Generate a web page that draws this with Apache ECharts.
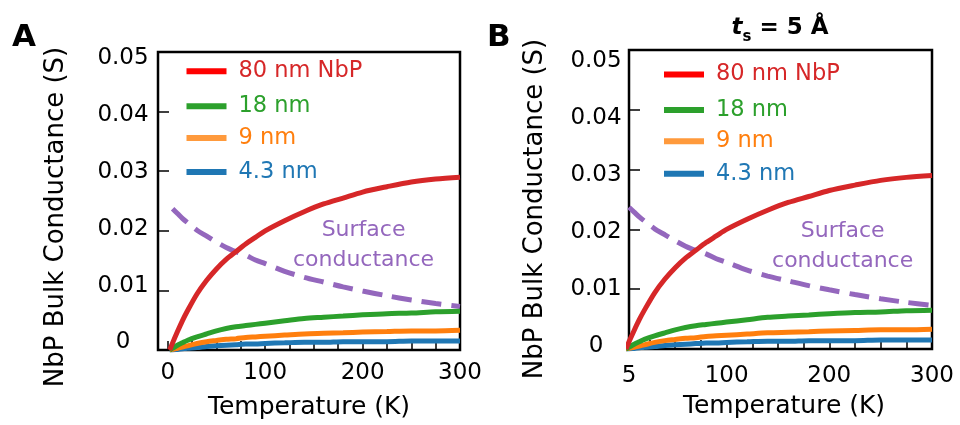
<!DOCTYPE html>
<html>
<head>
<meta charset="utf-8">
<script src="https://cdn.jsdelivr.net/npm/echarts@6/dist/echarts.min.js"></script>
<style>
  html, body { margin: 0; padding: 0; background: #fff; }
  #chart { width: 960px; height: 425px; }
</style>
</head>
<body>
<div id="chart"></div>
<script>
// Temperature grid (K) shared by every curve
const temps = [2, 5, 10, 15, 20, 30, 40, 50, 60, 70, 80, 90, 100, 120, 140, 160, 180, 200, 225, 250, 275, 300];

// NbP bulk conductance (S) for each film thickness
const bulk80nm = [0, 0.0012, 0.0031, 0.0049, 0.0065, 0.0094, 0.0117, 0.0136, 0.0152, 0.0165, 0.0178, 0.0189, 0.0200, 0.0217, 0.0232, 0.0245, 0.0255, 0.0265, 0.0274, 0.0282, 0.0287, 0.0290];
const bulk18nm = [0, 0.0003, 0.0008, 0.0012, 0.0016, 0.0022, 0.0027, 0.0032, 0.0036, 0.0039, 0.0041, 0.0043, 0.0045, 0.0049, 0.0053, 0.0055, 0.0057, 0.0059, 0.0061, 0.0062, 0.0064, 0.0065];
const bulk9nm  = [0, 0.0001, 0.0003, 0.0005, 0.0007, 0.0011, 0.0014, 0.0016, 0.0018, 0.0019, 0.0021, 0.0022, 0.0023, 0.0025, 0.0027, 0.0028, 0.0029, 0.0030, 0.0031, 0.0032, 0.0032, 0.0033];
const bulk4nm  = [0, 0, 0.0001, 0.0002, 0.0003, 0.0004, 0.0006, 0.0007, 0.0008, 0.0009, 0.0010, 0.0010, 0.0011, 0.0012, 0.0013, 0.0013, 0.0014, 0.0014, 0.0014, 0.0015, 0.0015, 0.0015];
// Surface conductance (S), defined from 5 K upward
const surface  = [null, 0.0237, 0.0229, 0.0221, 0.0214, 0.0201, 0.0191, 0.0181, 0.0172, 0.0165, 0.0159, 0.0151, 0.0145, 0.0132, 0.0122, 0.0114, 0.0106, 0.0099, 0.0091, 0.0084, 0.0078, 0.0073];

// Series names and tick labels
const names = ['80 nm NbP', '18 nm', '9 nm', '4.3 nm'];
const yTickValues = [0, 0.01, 0.02, 0.03, 0.04, 0.05];
const yTickLabels = ['0', '0.01', '0.02', '0.03', '0.04', '0.05'];
const xTicksA = [0, 100, 200, 300];
const xTicksB = [5, 100, 200, 300];

const FONT = "'DejaVu Sans'";
const lineColors = ['#d62728', '#2ca02c', '#ff7f0e', '#1f77b4'];
const legendIconColors = ['#ff0000', '#2ca02c', '#ff9a3c', '#1f77b4'];
const surfaceColor = '#9467bd';

const pairs = arr => temps.map((t, i) => [t, arr[i]]);
const bulkSets = [bulk80nm, bulk18nm, bulk9nm, bulk4nm];

function range(a, b, step) { const r = []; for (let v = a; v <= b; v += step) r.push(v); return r; }

function panelAxes(g, xMin, xTicks, minorTicks, labelMargin, nameGapY, namePadY, labelRange, yLabelMargin, nameShiftX) {
  const xAxis = {
    gridIndex: g, type: 'value', min: xMin, max: 300, position: 'bottom',
    axisLine: { show: false, onZero: false },
    splitLine: { show: false },
    axisTick: { inside: true, length: 9, customValues: minorTicks, lineStyle: { color: '#000', width: 1.5 } },
    axisLabel: { customValues: xTicks, margin: labelMargin, fontSize: 23, color: '#000', fontFamily: FONT,
                 formatter: v => String(Math.round(v)) },
    name: 'Temperature (K)', nameLocation: 'middle', nameGap: 45,
    nameTextStyle: { fontSize: 25, color: '#000', fontFamily: FONT, padding: [0, 0, 0, nameShiftX] }
  };
  const yTicks = {
    gridIndex: g, type: 'value', min: 0, max: 0.05, interval: 0.01, position: 'left',
    axisLine: { show: false, onZero: false }, splitLine: { show: false },
    axisTick: { inside: true, length: 11, lineStyle: { color: '#000', width: 1.5 } },
    axisLabel: { show: false },
    name: 'NbP Bulk Conductance (S)', nameLocation: 'middle', nameGap: nameGapY,
    nameTextStyle: { fontSize: 26, color: '#000', fontFamily: FONT, padding: [0, namePadY, 0, 0] }
  };
  // label-only axis: tick labels sit on a slightly tighter scale than the tick marks
  const yLabels = {
    gridIndex: g, type: 'value', min: labelRange[0], max: labelRange[1], position: 'left', offset: 0,
    axisLine: { show: false, onZero: false }, splitLine: { show: false }, axisTick: { show: false },
    axisLabel: { customValues: yTickValues, align: 'center', margin: yLabelMargin, fontSize: 23, color: '#000',
                 fontFamily: FONT, formatter: v => yTickLabels[Math.round(v * 100)] }
  };
  return { xAxis, yAxes: [yTicks, yLabels] };
}

const A = panelAxes(0, -10, xTicksA, range(0, 275, 25), 12, 89, 32, [-0.00132, 0.05114], 35, 0);
const B = panelAxes(1, 5, xTicksB, range(25, 275, 25), 16, 81, 19, [-0.00044, 0.05193], 33, 7);

function panelSeries(xIdx, yIdx, notePos) {
  const out = [{
    name: 'Surface conductance', type: 'line', xAxisIndex: xIdx, yAxisIndex: yIdx,
    data: pairs(surface), showSymbol: false, smooth: 0.3, z: 2,
    lineStyle: { color: surfaceColor, width: 5, type: [20, 10] },
    itemStyle: { color: surfaceColor },
    markPoint: {
      symbol: 'circle', symbolSize: 0, silent: true,
      data: [{ coord: notePos }],
      label: { show: true, position: 'inside', formatter: 'Surface\nconductance', color: surfaceColor,
               fontSize: 22, lineHeight: 30, fontFamily: FONT, align: 'center' }
    }
  }];
  for (let k = 3; k >= 0; k--) {
    out.push({
      name: names[k], type: 'line', xAxisIndex: xIdx, yAxisIndex: yIdx,
      data: pairs(bulkSets[k]), showSymbol: false, smooth: 0.3, z: 3 + (3 - k),
      lineStyle: { color: lineColors[k], width: 5 }, itemStyle: { color: lineColors[k] }
    });
  }
  return out;
}

function legends(left, centers) {
  return names.map((n, k) => ({
    left: left, top: centers[k] - 12, padding: 0, icon: 'rect', itemWidth: 40, itemHeight: 6,
    selectedMode: false,
    data: [{ name: n, itemStyle: { color: legendIconColors[k] }, textStyle: { color: lineColors[k] } }],
    textStyle: { fontSize: 22.5, lineHeight: 24, fontFamily: FONT, padding: [0, 0, 0, 7] }
  }));
}

const chart = echarts.init(document.getElementById('chart'), null, { renderer: 'canvas' });
chart.setOption({
  animation: false,
  backgroundColor: '#fff',
  title: [
    { text: 'A', left: 12, top: 22, padding: 0, textStyle: { fontSize: 31, fontWeight: 'bold', color: '#000', fontFamily: FONT } },
    { text: 'B', left: 487, top: 22, padding: 0, textStyle: { fontSize: 31, fontWeight: 'bold', color: '#000', fontFamily: FONT } },
    {
      text: '{i|t}{s|s}{n| = 5 Å}', left: 780, top: 11, padding: 0, textAlign: 'center',
      textStyle: {
        rich: {
          i: { fontSize: 23, fontWeight: 'bold', fontStyle: 'italic', color: '#000', fontFamily: FONT, lineHeight: 34 },
          s: { fontSize: 15, fontWeight: 'bold', color: '#000', fontFamily: FONT, lineHeight: 15, verticalAlign: 'bottom' },
          n: { fontSize: 23, fontWeight: 'bold', color: '#000', fontFamily: FONT, lineHeight: 34 }
        }
      }
    }
  ],
  legend: [...legends(186.5, [71.3, 106.3, 138, 172]), ...legends(664, [74.5, 110, 141.3, 173.8])],
  grid: [
    { left: 158, top: 52, width: 302, height: 299, show: true, borderWidth: 2.5, borderColor: '#000', backgroundColor: 'transparent' },
    { left: 629, top: 50, width: 303, height: 299, show: true, borderWidth: 2.5, borderColor: '#000', backgroundColor: 'transparent' }
  ],
  xAxis: [A.xAxis, B.xAxis],
  yAxis: [...A.yAxes, ...B.yAxes],
  series: [...panelSeries(0, 0, [201, 0.01756]), ...panelSeries(1, 2, [213, 0.0172])]
});
</script>
</body>
</html>
